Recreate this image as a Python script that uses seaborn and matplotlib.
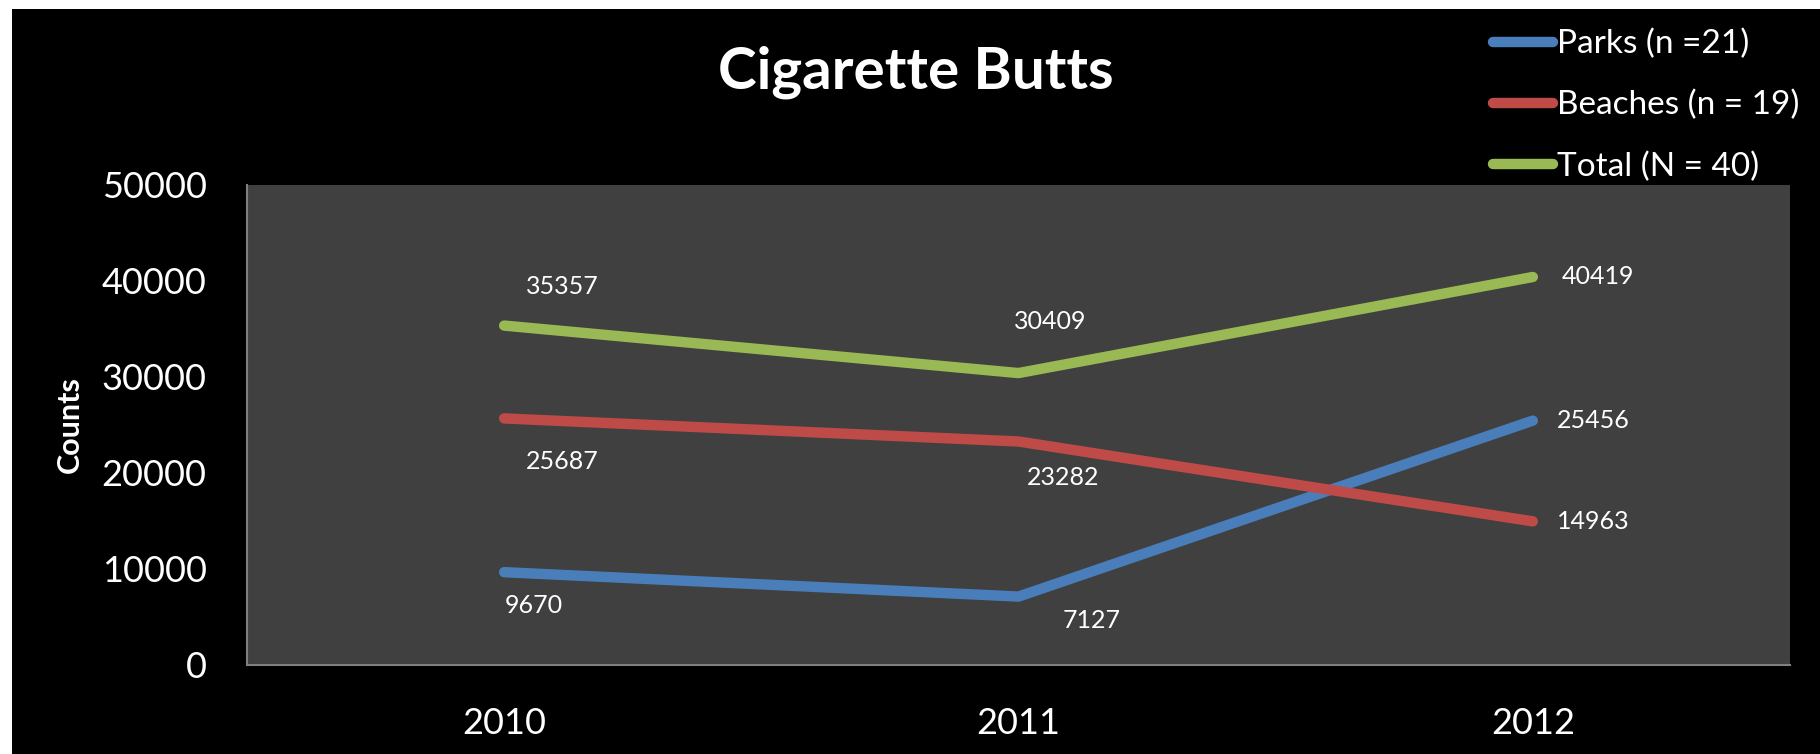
import matplotlib
matplotlib.use("Agg")
import matplotlib.pyplot as plt
import seaborn as sns
import pandas as pd
from matplotlib.patches import Rectangle

# chart data
years = ["2010", "2011", "2012"]
parks = [9670, 7127, 25456]
beaches = [25687, 23282, 14963]
total = [35357, 30409, 40419]
series_names = ["Parks (n =21)", "Beaches (n = 19)", "Total (N = 40)"]
yticks = [0, 10000, 20000, 30000, 40000, 50000]

colors = {"Parks (n =21)": "#4a7ebb",
          "Beaches (n = 19)": "#be4b48",
          "Total (N = 40)": "#98b954"}

# label offsets in pixels from each point (layout only)
label_offsets = {
	"Parks (n =21)": [(30, -33), (73, -24), (60, 0)],
	"Beaches (n = 19)": [(58, -43), (45, -36), (60, 0)],
	"Total (N = 40)": [(58, 39), (32, 52), (65, 0)],
}

def main():
	rows = []
	for name, vals in zip(series_names, [parks, beaches, total]):
		for yr, v in zip(years, vals):
			rows.append({"Year": yr, "Counts": v, "Series": name})
	df = pd.DataFrame(rows)

	sns.set_style("dark")
	plt.rcParams['font.family'] = ['Lato', 'DejaVu Sans']

	fig = plt.figure(figsize=(18.2, 7.54), dpi=100)
	fig.patch.set_facecolor("white")
	fig.add_artist(Rectangle((12 / 1820, 0), 1, 1 - 9 / 754, transform=fig.transFigure,
	                         facecolor="black", edgecolor="none", zorder=-1))

	ax = fig.add_axes([247 / 1820, 89 / 754, 1543 / 1820, 480 / 754])
	ax.set_facecolor("#404040")

	sns.lineplot(data=df, x="Year", y="Counts", hue="Series", palette=colors,
	             hue_order=series_names, linewidth=7.5, ax=ax,
	             solid_capstyle="round", sort=False)

	# data labels
	for name in series_names:
		sub = df[df.Series == name]
		for i, (yr, v) in enumerate(zip(sub.Year, sub.Counts)):
			dx, dy = label_offsets[name][i]
			ax.annotate(str(v), (i, v), xytext=(dx, dy), textcoords="offset pixels",
			            ha="center", va="center", color="white", fontsize=18)

	ax.set_xlim(-0.5, 2.5)
	ax.set_ylim(0, 50000)
	ax.set_yticks(yticks)
	ax.set_yticklabels([str(t) for t in yticks])
	ax.tick_params(axis="both", length=0, colors="white", labelsize=26)
	ax.tick_params(axis="y", pad=29)
	ax.tick_params(axis="x", pad=30)
	ax.grid(False)
	for s in ["top", "right"]:
		ax.spines[s].set_visible(False)
	for s in ["left", "bottom"]:
		ax.spines[s].set_visible(True)
		ax.spines[s].set_color("#808080")
		ax.spines[s].set_linewidth(1.5)

	ax.set_xlabel("")
	ax.set_ylabel("Counts", color="white", fontsize=22, fontweight="bold")
	ax.yaxis.set_label_coords(-0.106, 0.5)

	fig.suptitle("Cigarette Butts", x=916 / 1820, y=1 - 72 / 754, va="center",
	             color="white", fontsize=42, fontweight="bold")

	handles, labels = ax.get_legend_handles_labels()
	leg = ax.legend(handles, labels, loc="upper left", frameon=False,
	                bbox_to_anchor=(1493 / 1820, 1 - 29 / 754),
	                bbox_transform=fig.transFigure, borderaxespad=0, borderpad=0,
	                fontsize=24, handlelength=1.8, handletextpad=0.12,
	                labelspacing=0.92, labelcolor="white")
	for line in leg.get_lines():
		line.set_solid_capstyle("round")
		line.set_linewidth(7.5)

	fig.savefig("out.png", dpi=100, facecolor=fig.get_facecolor())

if __name__ == '__main__':
	main()
